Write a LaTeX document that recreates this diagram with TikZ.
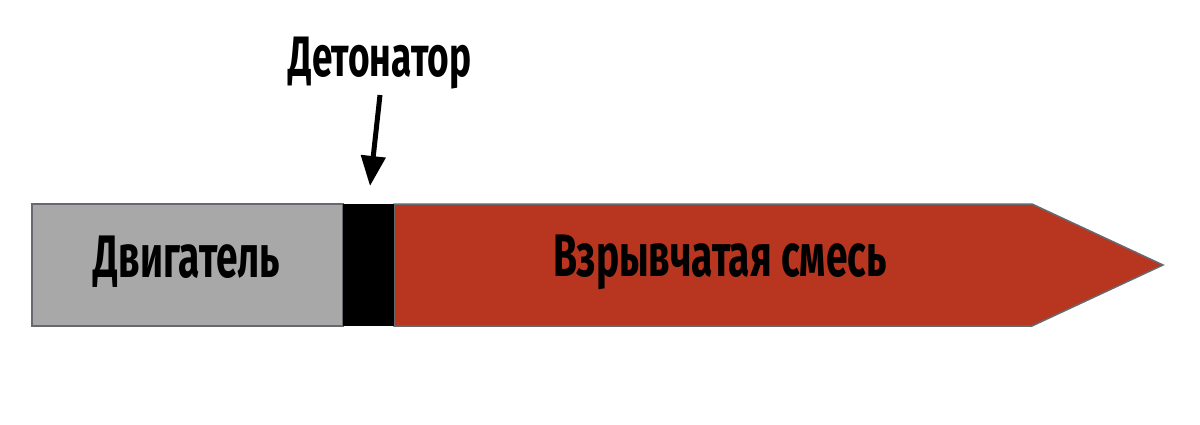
\documentclass[tikz,border=0pt]{standalone}
\usepackage{fontspec}
\setmainfont{Fira Sans}[FakeStretch=0.65]
\usetikzlibrary{arrows.meta}
\definecolor{engine}{HTML}{A7A8A7}
\definecolor{expl}{HTML}{B8361F}
\definecolor{edge}{HTML}{666A6E}
\tikzset{lbl/.style={font=\fontsize{60}{62}\selectfont\bfseries, text=black, inner sep=0pt},
  toplbl/.style={lbl, font=\fontsize{58}{60}\selectfont\bfseries, xscale=0.97}}
\begin{document}
\begin{tikzpicture}[x=1pt,y=-1pt]
\useasboundingbox (0,0) rectangle (1200,425);
\path[fill=engine,draw=edge,line width=1.5pt] (32,204) rectangle (343,326);
\path[fill=expl,draw=edge,line width=1.5pt] (394,204) -- (1032,204) -- (1163,265) -- (1032,326) -- (394,326) -- cycle;
\path[fill=black] (343,204) rectangle (394,326);
\node[lbl] (eng) at (187,262) {Двигатель};
\node[lbl] (mix) at (720,262) {Взрывчатая смесь};
\node[lbl, font=\fontsize{57}{60}\selectfont\bfseries] (det) at (380,63) {Детонатор};
\coordinate (tip) at (370,186);
\draw[line width=5pt,-{Triangle[length=30pt,width=24pt]}] (380,95) -- (tip);
\end{tikzpicture}
\end{document}
